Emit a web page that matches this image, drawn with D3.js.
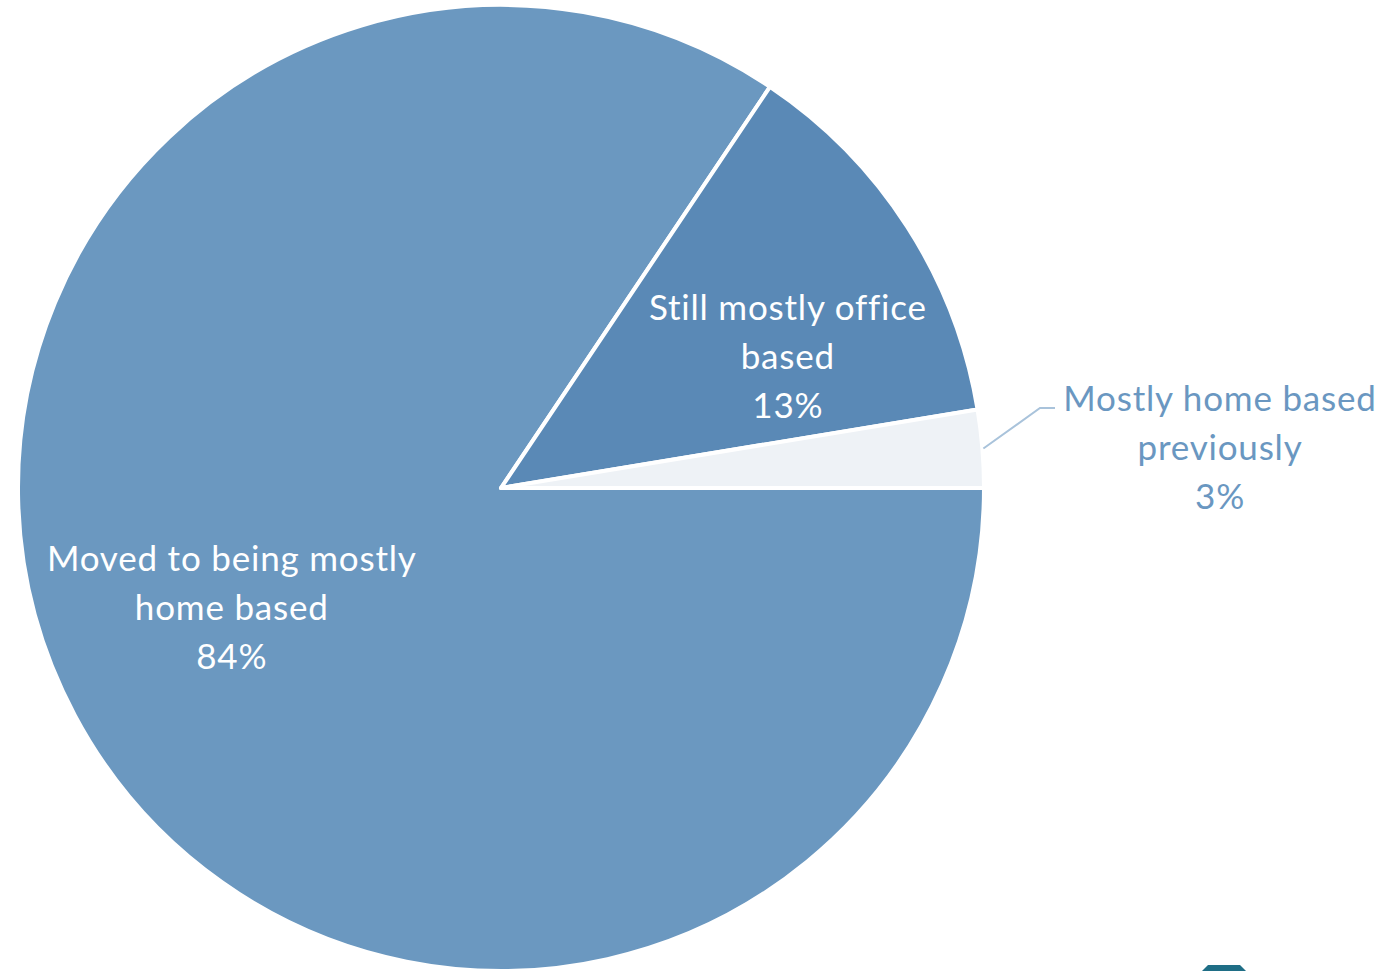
<!DOCTYPE html>
<html>
<head>
<meta charset="utf-8">
<script src="https://cdn.jsdelivr.net/npm/d3@7"></script>
<style>
  html, body { margin: 0; padding: 0; background: #fff; }
  svg text { font-family: Lato, "Open Sans", sans-serif; letter-spacing: 0.8px; }
</style>
</head>
<body>
<svg width="1400" height="971"></svg>
<script>
// slice data, in drawing order (clockwise from 3 o'clock)
const categories = ["Moved to being mostly home based", "Still mostly office based", "Mostly home based previously"]
const shares = [84.4, 13.0, 2.6]
const labelLines = [
    ["Moved to being mostly", "home based"],
    ["Still mostly office", "based"],
    ["Mostly home based", "previously"]
]
const colors = ["#6b98c0", "#5a89b6", "#eef2f6"]

let width = 1400, height = 971
let cx = 501, cy = 488, radius = 483

let svg = d3.select("svg")

let g = svg.append("g").attr("transform", "translate(" + cx + "," + cy + ")")

let pie = d3.pie()
    .value(function(d){ return d })
    .sort(null)
    .startAngle(Math.PI / 2)
    .endAngle(Math.PI / 2 + 2 * Math.PI)

let arcs = pie(shares)

let arc = d3.arc().innerRadius(0).outerRadius(radius)

g.selectAll("path.slice")
    .data(arcs)
    .enter()
    .append("path")
    .attr("class", "slice")
    .attr("d", arc)
    .attr("fill", function(d, i){ return colors[i] })
    .attr("stroke", "#fff")
    .attr("stroke-width", 4)
    .attr("stroke-linejoin", "round")

// label anchors: inside labels via centroid + nudges, outside label for the small slice
let labelArc = d3.arc().innerRadius(0).outerRadius(radius * 1.24)
let nudge = [[-5, -21], [35, 31], [0, 0]]
let lineH = 49, fontSize = 35

function labelPos(d, i) {
    if (i === 2) return [719, -40]
    let c = labelArc.centroid(d)
    return [c[0] + nudge[i][0], c[1] + nudge[i][1]]
}

// leader line for the small slice
let small = arcs[2]
let mid = (small.startAngle + small.endAngle) / 2
let p0 = [Math.sin(mid) * (radius + 1), -Math.cos(mid) * (radius + 1)]
g.append("polyline")
    .attr("points", [p0, [539, -80], [554, -80]].map(function(p){ return p.join(",") }).join(" "))
    .attr("fill", "none")
    .attr("stroke", "#a9c3db")
    .attr("stroke-width", 2)

let labels = g.selectAll("text.lbl")
    .data(arcs)
    .enter()
    .append("text")
    .attr("class", "lbl")
    .attr("text-anchor", "middle")
    .attr("font-size", fontSize)
    .attr("fill", function(d, i){ return i === 2 ? "#6a97c1" : "#fff" })
    .attr("transform", function(d, i){ return "translate(" + labelPos(d, i) + ")" })

labels.each(function(d, i){
    let t = d3.select(this)
    let lines = labelLines[i].concat([Math.round(d.data) + "%"])
    lines.forEach(function(s, k){
        t.append("tspan")
            .attr("x", 0)
            .attr("y", (k - 1) * lineH + 12)
            .text(s)
    })
})

// partial logo peeking in at the bottom edge
svg.append("path")
    .attr("d", "M1202,971 L1208,965 L1240,965 L1246,971 Z")
    .attr("fill", "#1f6e86")
</script>
</body>
</html>
